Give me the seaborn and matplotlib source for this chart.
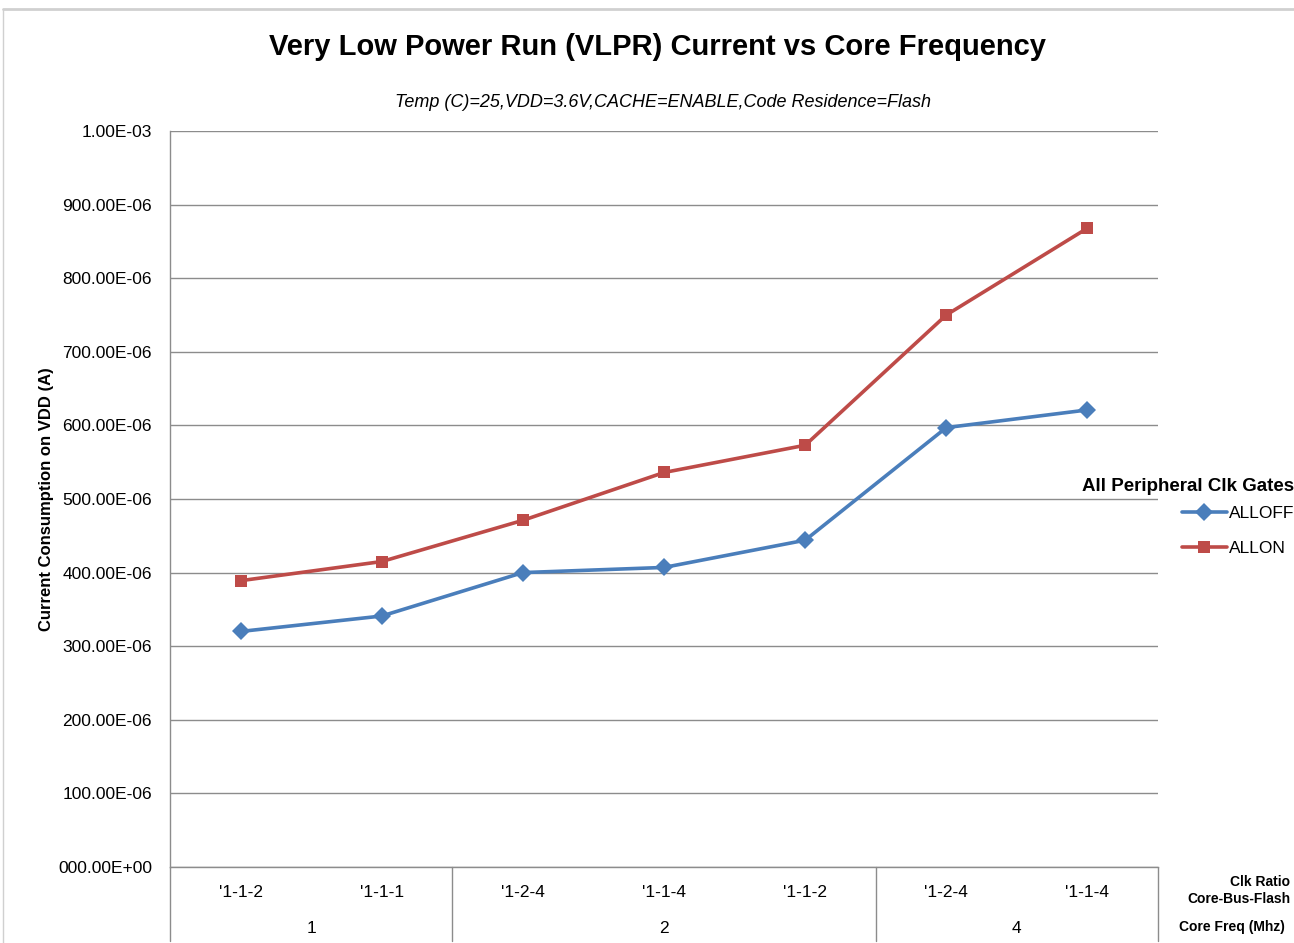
import numpy as np
import pandas as pd
import matplotlib
matplotlib.use("Agg")
import matplotlib.pyplot as plt
import matplotlib.transforms as mtransforms
from matplotlib.lines import Line2D
from matplotlib.ticker import FuncFormatter
import seaborn as sns

# Data
clk_ratio = ["'1-1-2", "'1-1-1", "'1-2-4", "'1-1-4", "'1-1-2", "'1-2-4", "'1-1-4"]
core_freq = ["1", "2", "4"]
freq_span = [2, 3, 2]  # how many ratio columns belong to each core frequency
all_off = [320e-6, 341e-6, 400e-6, 407e-6, 444e-6, 597e-6, 621e-6]
all_on = [389e-6, 415e-6, 471e-6, 536e-6, 573e-6, 750e-6, 868e-6]

sns.set_theme(style="white")
plt.rcParams['font.family'] = ['Liberation Sans', 'DejaVu Sans']
plt.rcParams['text.color'] = 'black'

df = pd.DataFrame({
    'pos': list(range(len(clk_ratio))) * 2,
    'current': all_off + all_on,
    'gates': ['ALLOFF'] * len(all_off) + ['ALLON'] * len(all_on),
})

fig = plt.figure(figsize=(12.94, 9.43), dpi=100)
ax = fig.add_axes([0.1314, 0.0806, 0.7635, 0.7805])

palette = {'ALLOFF': '#4a7ebb', 'ALLON': '#be4b48'}
sns.lineplot(data=df, x='pos', y='current', hue='gates', style='gates',
             markers={'ALLOFF': 'D', 'ALLON': 's'}, dashes=False,
             palette=palette, linewidth=2.6, markersize=9, markeredgewidth=0,
             ax=ax, legend=False)


def eng_fmt(v, _):
    if abs(v) < 1e-12:
        return "000.00E+00"
    exp = int(np.floor(np.log10(abs(v)) / 3) * 3)
    return f"{v / 10**exp:.2f}E{exp:+03d}"


ax.set_ylim(0, 1e-3)
ax.set_yticks(np.arange(0, 1.0001e-3, 100e-6))
ax.yaxis.set_major_formatter(FuncFormatter(eng_fmt))
ax.set_xlim(-0.5, len(clk_ratio) - 0.5)
ax.set_xticks(range(len(clk_ratio)))
ax.set_xticklabels(clk_ratio)
ax.tick_params(axis='x', length=0, pad=13, labelsize=12.5, colors='black')
ax.tick_params(axis='y', length=0, pad=13, labelsize=12.5, colors='black')
ax.grid(axis='y', color='#8c8c8c', linewidth=1)
ax.set_axisbelow(True)
for s in ['top', 'right']:
    ax.spines[s].set_visible(False)
for s in ['left', 'bottom']:
    ax.spines[s].set_color('#8c8c8c')
    ax.spines[s].set_linewidth(1)

ax.set_xlabel('')
ax.set_ylabel('Current Consumption on VDD (A)', fontsize=12,
              fontweight='bold', labelpad=3, color='black')

# grouped category axis below the plot
trans = mtransforms.blended_transform_factory(ax.transData, ax.transAxes)
edges = np.concatenate([[0], np.cumsum(freq_span)]) - 0.5
for e in edges:
    ax.plot([e, e], [0, -0.1], transform=trans, color='#8c8c8c',
            linewidth=1, clip_on=False)
for i, f in enumerate(core_freq):
    mid = (edges[i] + edges[i + 1]) / 2
    ax.text(mid, -0.083, f, transform=trans, ha='center', va='center',
            fontsize=12.5, color='black')

fig.text(0.997, 1 - 882 / 943, 'Clk Ratio', ha='right', va='center',
         fontsize=10, fontweight='bold')
fig.text(0.997, 1 - 899 / 943, 'Core-Bus-Flash', ha='right', va='center',
         fontsize=10, fontweight='bold')
fig.text(0.993, 1 - 927 / 943, 'Core Freq (Mhz)', ha='right', va='center',
         fontsize=10, fontweight='bold')

fig.text(0.508, 0.950, 'Very Low Power Run (VLPR) Current vs Core Frequency',
         ha='center', va='center', fontsize=21, fontweight='bold')
fig.text(0.512, 0.891, 'Temp (C)=25,VDD=3.6V,CACHE=ENABLE,Code Residence=Flash',
         ha='center', va='center', fontsize=13, fontstyle='italic')

handles = [Line2D([], [], color=palette['ALLOFF'], marker='D', markersize=9,
                  linewidth=2.6, markeredgewidth=0),
           Line2D([], [], color=palette['ALLON'], marker='s', markersize=9,
                  linewidth=2.6, markeredgewidth=0)]
leg = fig.legend(handles, ['ALLOFF', 'ALLON'], title='All Peripheral Clk Gates',
                 loc='upper right', bbox_to_anchor=(1.012, 0.5095),
                 frameon=False, fontsize=12.5, handlelength=2.6,
                 handletextpad=0.1, labelspacing=1.1,
                 title_fontproperties={'weight': 'bold', 'size': 13.5})
leg._legend_box.align = 'right'
leg._legend_box.sep = 8

# outer chart border
fig.add_artist(Line2D([0.002, 1.0], [0.9905, 0.9905], color='#d0d0d0', linewidth=2))
fig.add_artist(Line2D([0.0025, 0.0025], [0.0, 0.9905], color='#d0d0d0', linewidth=1))

fig.savefig('out.png', dpi=100)
